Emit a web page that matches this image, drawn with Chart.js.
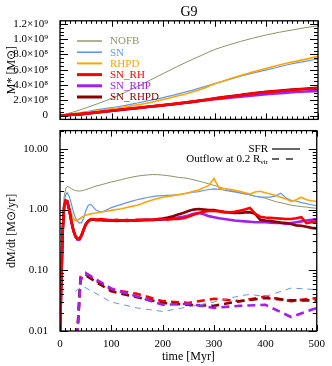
<!DOCTYPE html>
<html>
<head>
<meta charset="utf-8">
<script src="https://cdn.jsdelivr.net/npm/chart.js@4"></script>
<style>
  html, body { margin: 0; padding: 0; background: #fff; }
  #wrap { position: relative; width: 332px; height: 366px; }
  #wrap canvas { position: absolute; left: 0; }
</style>
</head>
<body>
<div id="wrap">
  <canvas id="massChart" width="332" height="130" style="top:0"></canvas>
  <canvas id="rateChart" width="332" height="246" style="top:120px"></canvas>
</div>
<script>
const FONT = '"Liberation Serif", "Times New Roman", serif';

// runs shown in both panels
const runs = ['NOFB', 'SN', 'RHPD', 'SN_RH', 'SN_RHP', 'SN_RHPD'];
const runColors = ['#8a9468', '#6495ed', '#ffa500', '#ff0000', '#a020f0', '#8b0000'];
const runWidths = [1, 1.2, 1.6, 2.6, 2.6, 2.6];
const runOrder = [6, 5, 4, 1, 3, 2]; // lower = drawn on top

// top panel: stellar mass, in units of 1e8 Msun
const tMass = [0, 25, 50, 75, 100, 125, 150, 175, 200, 225, 250, 275, 300, 325, 350, 375, 400, 425, 450, 475, 500];
const massNOFB = [0, 0.45, 1.0, 1.6, 2.25, 3.0, 3.8, 4.65, 5.5, 6.35, 7.15, 7.9, 8.65, 9.2, 9.7, 10.15, 10.55, 10.9, 11.2, 11.5, 11.75];
const massSN = [0, 0.25, 0.5, 0.8, 1.05, 1.32, 1.65, 2.0, 2.35, 2.77, 3.2, 3.68, 4.18, 4.68, 5.15, 5.58, 5.98, 6.38, 6.78, 7.1, 7.4];
const massRHPD = [0, 0.22, 0.42, 0.64, 0.87, 1.13, 1.4, 1.72, 2.1, 2.52, 2.96, 3.48, 4.15, 4.72, 5.25, 5.72, 6.2, 6.62, 7.0, 7.35, 7.75];
const massSN_RH = [0, 0.1, 0.25, 0.44, 0.63, 0.82, 1.0, 1.18, 1.37, 1.56, 1.76, 1.98, 2.22, 2.45, 2.67, 2.9, 3.08, 3.22, 3.35, 3.47, 3.58];
const massSN_RHP = [0, 0.1, 0.25, 0.43, 0.62, 0.8, 0.98, 1.16, 1.34, 1.52, 1.72, 1.93, 2.13, 2.3, 2.47, 2.63, 2.78, 2.92, 3.05, 3.15, 3.22];
const massSN_RHPD = [0, 0.1, 0.25, 0.44, 0.63, 0.82, 1.0, 1.18, 1.36, 1.55, 1.76, 2.0, 2.25, 2.48, 2.7, 2.92, 3.1, 3.25, 3.4, 3.52, 3.62];

// bottom panel: star formation rate, Msun/yr
const tSfr = [0, 2, 5, 8, 11, 14, 18, 22, 26, 30, 34, 38, 42, 46, 50, 55, 60, 65, 70,
  80, 90, 100, 110, 120, 130, 140, 150, 160, 170, 180, 190, 200, 210, 220, 230, 240, 250,
  260, 270, 280, 290, 300, 310, 320, 330, 340, 350, 360, 370, 380, 390, 400, 410, 420,
  430, 440, 450, 460, 470, 480, 490, 500];
const sfrNOFB = [0.008, 0.05, 0.6, 1.6, 2.2, 2.4, 2.35, 2.22, 2.12, 2.06, 2.03, 2.02, 2.04, 2.08, 2.13, 2.2, 2.28, 2.36, 2.44,
  2.56, 2.7, 2.85, 2.98, 3.12, 3.28, 3.42, 3.55, 3.65, 3.72, 3.78, 3.76, 3.7, 3.62, 3.52, 3.4, 3.34, 3.25,
  3.1, 2.95, 2.8, 2.65, 2.5, 2.36, 2.22, 2.08, 1.98, 1.9, 1.82, 1.74, 1.66, 1.6, 1.54, 1.44, 1.35,
  1.3, 1.24, 1.18, 1.15, 1.12, 1.1, 1.07, 1.05];
const sfrSN = [0.008, 0.05, 0.5, 1.3, 1.75, 1.9, 1.65, 1.25, 0.92, 0.74, 0.64, 0.6, 0.61, 0.72, 0.95, 1.18, 1.22, 1.1, 0.98,
  0.9, 0.98, 1.08, 1.15, 1.22, 1.3, 1.38, 1.45, 1.52, 1.58, 1.64, 1.68, 1.7, 1.72, 1.74, 1.76, 1.82, 1.88,
  1.93, 1.98, 2.06, 2.14, 2.2, 2.16, 2.08, 2.02, 1.96, 1.88, 1.82, 1.76, 1.66, 1.62, 1.6, 1.6, 1.68,
  1.86, 1.56, 1.42, 1.38, 1.3, 1.25, 1.2, 1.15];
const sfrRHPD = [0.008, 0.05, 0.5, 1.2, 1.45, 1.4, 1.1, 0.86, 0.72, 0.66, 0.67, 0.7, 0.74, 0.78, 0.81, 0.83, 0.85, 0.87, 0.88,
  0.91, 0.94, 0.97, 1.0, 1.03, 1.08, 1.13, 1.18, 1.26, 1.36, 1.44, 1.52, 1.6, 1.64, 1.7, 1.76, 1.8, 1.9,
  2.0, 2.1, 2.3, 2.5, 3.25, 2.25, 2.2, 2.15, 2.08, 2.0, 1.9, 1.8, 1.95, 2.0, 1.9, 1.8, 1.7,
  1.6, 1.5, 1.36, 1.45, 1.6, 1.45, 1.4, 1.36];
const sfrSN_RH = [0.008, 0.04, 0.42, 1.12, 1.4, 1.38, 1.0, 0.65, 0.46, 0.36, 0.33, 0.33, 0.38, 0.47, 0.57, 0.65, 0.69, 0.7, 0.68,
  0.7, 0.68, 0.66, 0.68, 0.66, 0.67, 0.66, 0.68, 0.68, 0.67, 0.68, 0.7, 0.7, 0.68, 0.7, 0.7, 0.72, 0.76,
  0.82, 0.88, 0.92, 0.95, 0.95, 0.93, 0.9, 0.9, 0.92, 0.96, 1.0, 1.06, 0.86, 0.76, 0.74, 0.73, 0.72,
  0.71, 0.7, 0.7, 0.72, 0.75, 0.6, 0.62, 0.64];
const sfrSN_RHP = [0.008, 0.04, 0.4, 1.1, 1.38, 1.36, 0.98, 0.64, 0.45, 0.36, 0.32, 0.32, 0.37, 0.46, 0.56, 0.64, 0.68, 0.69, 0.68,
  0.68, 0.67, 0.67, 0.66, 0.66, 0.67, 0.66, 0.67, 0.67, 0.68, 0.67, 0.68, 0.68, 0.7, 0.72, 0.74, 0.76, 0.8,
  0.85, 0.88, 0.84, 0.78, 0.75, 0.72, 0.7, 0.68, 0.66, 0.65, 0.64, 0.63, 0.62, 0.62, 0.62, 0.61, 0.6,
  0.6, 0.58, 0.6, 0.62, 0.64, 0.66, 0.68, 0.7];
const sfrSN_RHPD = [0.008, 0.04, 0.4, 1.1, 1.4, 1.38, 1.0, 0.66, 0.46, 0.37, 0.33, 0.33, 0.38, 0.47, 0.57, 0.65, 0.69, 0.69, 0.67,
  0.67, 0.66, 0.66, 0.65, 0.66, 0.65, 0.66, 0.66, 0.67, 0.68, 0.68, 0.69, 0.71, 0.74, 0.78, 0.83, 0.88, 0.95,
  1.0, 1.02, 1.0, 0.98, 0.98, 0.95, 0.92, 0.9, 0.88, 0.88, 0.9, 0.9, 0.85, 0.68, 0.66, 0.65, 0.63,
  0.61, 0.6, 0.58, 0.55, 0.54, 0.52, 0.5, 0.49];

// bottom panel: outflow rate at 0.2 Rvir, Msun/yr
const tOutSN = [30, 44, 100, 150, 200, 250, 300, 350, 370, 400, 450, 500];
const outSN = [0.045, 0.055, 0.03, 0.024, 0.021, 0.025, 0.03, 0.038, 0.04, 0.037, 0.051, 0.048];
const tOut = [32, 40, 50, 100, 150, 200, 250, 300, 350, 400, 450, 500];
const outSN_RH = [0.005, 0.078, 0.085, 0.048, 0.041, 0.031, 0.029, 0.034, 0.031, 0.037, 0.031, 0.035];
const outSN_RHP = [0.005, 0.07, 0.09, 0.05, 0.037, 0.027, 0.028, 0.024, 0.026, 0.027, 0.017, 0.024];
const outSN_RHPD = [0.005, 0.072, 0.082, 0.045, 0.036, 0.029, 0.027, 0.026, 0.031, 0.035, 0.032, 0.032];

// axis ticks
const timeTicks = [0, 100, 200, 300, 400, 500];
const massTicks = [0, 2, 4, 6, 8, 10, 12];
const massTickLabels = ['0', '2.0×10⁸', '4.0×10⁸', '6.0×10⁸', '8.0×10⁸', '1.0×10⁹', '1.2×10⁹'];
const rateTicks = [0.01, 0.1, 1, 10];
const rateTickLabels = ['0.01', '0.10', '1.00', '10.00'];

const massMinor = [];
for (let v = 0; v <= 12; v += 0.5) massMinor.push(v);
const rateMinor = [];
[0.01, 0.1, 1, 10].forEach(d => { for (let k = 2; k <= 9; k++) if (k * d <= 20) rateMinor.push(k * d); });

Chart.defaults.font.family = FONT;
Chart.defaults.color = '#000';

const pts = (xs, ys) => ys.map((y, i) => ({ x: xs[i], y }));

// inward ticks on all four sides plus the box
const frameTicks = {
  id: 'frameTicks',
  afterDatasetsDraw(chart, args, opts) {
    const { ctx, chartArea: a, scales } = chart;
    const seg = (x1, y1, x2, y2) => { ctx.beginPath(); ctx.moveTo(x1, y1); ctx.lineTo(x2, y2); ctx.stroke(); };
    ctx.save();
    ctx.strokeStyle = '#000';
    ctx.lineWidth = 1;
    for (let t = 0; t <= 500; t += 10) {
      const px = Math.round(scales.x.getPixelForValue(t)) + 0.5;
      const len = t % 100 === 0 ? 6 : 3;
      seg(px, a.bottom, px, a.bottom - len);
      seg(px, a.top, px, a.top + len);
    }
    const yTick = (v, len) => {
      const py = Math.round(scales.y.getPixelForValue(v)) + 0.5;
      seg(a.left, py, a.left + len, py);
      seg(a.right, py, a.right - len, py);
    };
    opts.minor.forEach(v => yTick(v, 4));
    opts.major.forEach(v => yTick(v, 8));
    ctx.lineWidth = 1.3;
    ctx.strokeRect(a.left, a.top, a.right - a.left, a.bottom - a.top);
    ctx.restore();
  }
};

const runLegend = {
  id: 'runLegend',
  afterDatasetsDraw(chart) {
    const { ctx } = chart;
    ctx.save();
    ctx.font = '11px ' + FONT;
    ctx.textBaseline = 'middle';
    chart.data.datasets.forEach((ds, i) => {
      const y = 41 + i * 11.2;
      ctx.strokeStyle = ds.borderColor;
      ctx.lineWidth = ds.borderWidth + 0.4;
      ctx.beginPath(); ctx.moveTo(77, y); ctx.lineTo(102, y); ctx.stroke();
      ctx.fillStyle = ds.borderColor;
      ctx.fillText(ds.label, 110, y + 0.5);
    });
    ctx.restore();
  }
};

const kindLegend = {
  id: 'kindLegend',
  afterDatasetsDraw(chart) {
    const { ctx } = chart;
    ctx.save();
    ctx.fillStyle = '#000';
    ctx.strokeStyle = '#000';
    ctx.lineWidth = 1.2;
    ctx.textBaseline = 'middle';
    ctx.textAlign = 'right';
    ctx.font = '11px ' + FONT;
    ctx.fillText('SFR', 268, 29);
    ctx.beginPath(); ctx.moveTo(272, 29); ctx.lineTo(300, 29); ctx.stroke();
    ctx.font = '7px ' + FONT;
    const wSub = ctx.measureText('vir').width;
    ctx.fillText('vir', 268, 42);
    ctx.font = '11px ' + FONT;
    ctx.fillText('Outflow at 0.2 R', 268 - wSub, 39);
    ctx.setLineDash([7, 7]);
    ctx.beginPath(); ctx.moveTo(272, 39); ctx.lineTo(293, 39); ctx.stroke();
    ctx.restore();
  }
};

const common = {
  responsive: false,
  animation: false,
  devicePixelRatio: 1,
  events: []
};

const massSeries = [massNOFB, massSN, massRHPD, massSN_RH, massSN_RHP, massSN_RHPD];
new Chart(document.getElementById('massChart'), {
  type: 'line',
  data: {
    datasets: runs.map((name, i) => ({
      label: name,
      data: pts(tMass, massSeries[i]),
      borderColor: runColors[i],
      borderWidth: runWidths[i],
      pointRadius: 0,
      cubicInterpolationMode: 'monotone',
      order: runOrder[i]
    }))
  },
  options: {
    ...common,
    layout: { padding: { left: 0, right: 14, top: 0, bottom: 2 } },
    plugins: {
      legend: { display: false },
      tooltip: { enabled: false },
      title: { display: true, text: 'G9', fullSize: false, font: { size: 14, weight: 'normal' }, padding: { top: 4, bottom: 0 } },
      frameTicks: { major: massTicks, minor: massMinor }
    },
    scales: {
      x: { type: 'linear', min: 0, max: 500, display: false },
      y: {
        type: 'linear', min: -0.5, max: 12.4,
        afterBuildTicks: s => { s.ticks = massTicks.map(v => ({ value: v })); },
        afterFit: s => { s.width = 60; },
        ticks: { callback: (v, i) => massTickLabels[i], font: { size: 11 }, padding: 4, autoSkip: false },
        grid: { display: false },
        border: { display: false },
        title: { display: true, text: 'M* [M⊙]', font: { size: 12 }, padding: { top: 5, bottom: 0 } }
      }
    }
  },
  plugins: [frameTicks, runLegend]
});

const sfrSeries = [sfrNOFB, sfrSN, sfrRHPD, sfrSN_RH, sfrSN_RHP, sfrSN_RHPD];
const sfrSets = runs.map((name, i) => ({
  label: name + ' SFR',
  data: pts(tSfr, sfrSeries[i]),
  borderColor: runColors[i],
  borderWidth: runWidths[i],
  pointRadius: 0,
  tension: 0,
  order: runOrder[i]
}));
const outSets = [
  { label: 'SN outflow', data: pts(tOutSN, outSN), borderColor: runColors[1], borderWidth: 1, borderDash: [6, 5] },
  { label: 'SN_RHP outflow', data: pts(tOut, outSN_RHP), borderColor: runColors[4], borderWidth: 2.6, borderDash: [8, 5] },
  { label: 'SN_RHPD outflow', data: pts(tOut, outSN_RHPD), borderColor: runColors[5], borderWidth: 2.6, borderDash: [8, 5] },
  { label: 'SN_RH outflow', data: pts(tOut, outSN_RH), borderColor: runColors[3], borderWidth: 2.6, borderDash: [8, 5] }
].map(ds => ({ ...ds, pointRadius: 0, tension: 0, order: 0 }));

new Chart(document.getElementById('rateChart'), {
  type: 'line',
  data: { datasets: sfrSets.concat(outSets) },
  options: {
    ...common,
    layout: { padding: { left: 0, right: 14, top: 8, bottom: 0 } },
    plugins: {
      legend: { display: false },
      tooltip: { enabled: false },
      frameTicks: { major: rateTicks, minor: rateMinor }
    },
    scales: {
      x: {
        type: 'linear', min: 0, max: 500,
        afterBuildTicks: s => { s.ticks = timeTicks.map(v => ({ value: v })); },
        afterFit: s => { s.height = 35; },
        ticks: { font: { size: 11 }, padding: 7, maxRotation: 0, autoSkip: false },
        grid: { display: false, drawTicks: false },
        border: { display: false },
        title: { display: true, text: 'time [Myr]', font: { size: 12 }, padding: { top: 0, bottom: 2 } }
      },
      y: {
        type: 'logarithmic', min: 0.01, max: 20,
        afterBuildTicks: s => { s.ticks = rateTicks.map(v => ({ value: v })); },
        afterFit: s => { s.width = 60; },
        ticks: { callback: (v, i) => rateTickLabels[i], font: { size: 11 }, padding: 4, autoSkip: false },
        grid: { display: false },
        border: { display: false },
        title: { display: true, text: 'dM/dt [M⊙/yr]', font: { size: 12 }, padding: { top: 5, bottom: 0 } }
      }
    }
  },
  plugins: [frameTicks, kindLegend]
});
</script>
</body>
</html>
